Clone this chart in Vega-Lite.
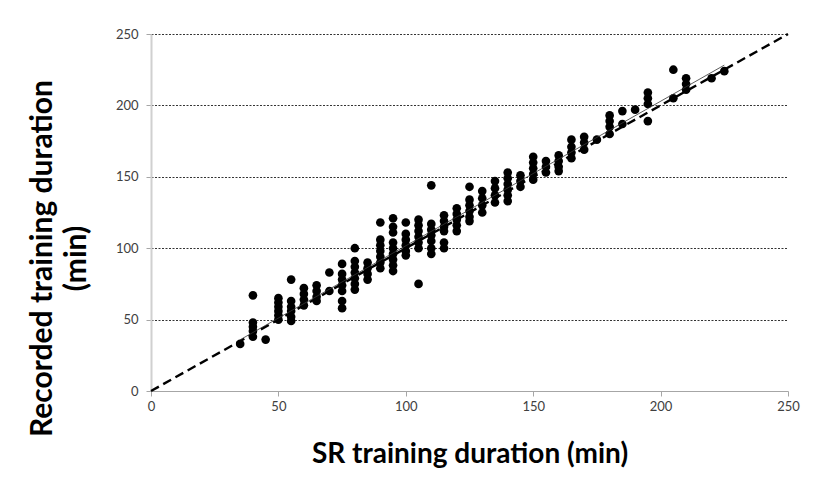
{
  "$schema": "https://vega.github.io/schema/vega-lite/v6.json",
  "autosize": "none",
  "width": 637,
  "height": 357,
  "padding": {"left": 151, "top": 34, "right": 32, "bottom": 110},
  "background": "white",
  "config": {
    "view": {"stroke": null},
    "font": "Lato"
  },
  "datasets": {
    "pts": [
      {"sr": 35, "rec": 33},
      {"sr": 40, "rec": 67}, {"sr": 40, "rec": 48}, {"sr": 40, "rec": 45}, {"sr": 40, "rec": 42}, {"sr": 40, "rec": 38},
      {"sr": 45, "rec": 36},
      {"sr": 50, "rec": 65}, {"sr": 50, "rec": 62}, {"sr": 50, "rec": 59}, {"sr": 50, "rec": 56}, {"sr": 50, "rec": 53}, {"sr": 50, "rec": 50},
      {"sr": 55, "rec": 78}, {"sr": 55, "rec": 63}, {"sr": 55, "rec": 59}, {"sr": 55, "rec": 56}, {"sr": 55, "rec": 52}, {"sr": 55, "rec": 49},
      {"sr": 60, "rec": 72}, {"sr": 60, "rec": 68}, {"sr": 60, "rec": 64}, {"sr": 60, "rec": 60},
      {"sr": 65, "rec": 74}, {"sr": 65, "rec": 70}, {"sr": 65, "rec": 66}, {"sr": 65, "rec": 63},
      {"sr": 70, "rec": 83}, {"sr": 70, "rec": 70},
      {"sr": 75, "rec": 89}, {"sr": 75, "rec": 82}, {"sr": 75, "rec": 78}, {"sr": 75, "rec": 74}, {"sr": 75, "rec": 70}, {"sr": 75, "rec": 63}, {"sr": 75, "rec": 58},
      {"sr": 80, "rec": 100}, {"sr": 80, "rec": 91}, {"sr": 80, "rec": 87}, {"sr": 80, "rec": 83}, {"sr": 80, "rec": 79}, {"sr": 80, "rec": 75}, {"sr": 80, "rec": 71},
      {"sr": 85, "rec": 90}, {"sr": 85, "rec": 86}, {"sr": 85, "rec": 82}, {"sr": 85, "rec": 78},
      {"sr": 90, "rec": 118}, {"sr": 90, "rec": 106}, {"sr": 90, "rec": 102}, {"sr": 90, "rec": 98}, {"sr": 90, "rec": 94}, {"sr": 90, "rec": 90}, {"sr": 90, "rec": 86},
      {"sr": 95, "rec": 121}, {"sr": 95, "rec": 115}, {"sr": 95, "rec": 111}, {"sr": 95, "rec": 104}, {"sr": 95, "rec": 100}, {"sr": 95, "rec": 96}, {"sr": 95, "rec": 92}, {"sr": 95, "rec": 88}, {"sr": 95, "rec": 84},
      {"sr": 100, "rec": 118}, {"sr": 100, "rec": 110}, {"sr": 100, "rec": 106}, {"sr": 100, "rec": 102}, {"sr": 100, "rec": 98}, {"sr": 100, "rec": 95},
      {"sr": 105, "rec": 120}, {"sr": 105, "rec": 116}, {"sr": 105, "rec": 112}, {"sr": 105, "rec": 108}, {"sr": 105, "rec": 104}, {"sr": 105, "rec": 100}, {"sr": 105, "rec": 75},
      {"sr": 110, "rec": 144}, {"sr": 110, "rec": 117}, {"sr": 110, "rec": 113}, {"sr": 110, "rec": 109}, {"sr": 110, "rec": 105}, {"sr": 110, "rec": 100}, {"sr": 110, "rec": 96},
      {"sr": 115, "rec": 123}, {"sr": 115, "rec": 119}, {"sr": 115, "rec": 115}, {"sr": 115, "rec": 112}, {"sr": 115, "rec": 104}, {"sr": 115, "rec": 100},
      {"sr": 120, "rec": 128}, {"sr": 120, "rec": 124}, {"sr": 120, "rec": 120}, {"sr": 120, "rec": 116}, {"sr": 120, "rec": 112},
      {"sr": 125, "rec": 143}, {"sr": 125, "rec": 134}, {"sr": 125, "rec": 130}, {"sr": 125, "rec": 126}, {"sr": 125, "rec": 122}, {"sr": 125, "rec": 119},
      {"sr": 130, "rec": 140}, {"sr": 130, "rec": 135}, {"sr": 130, "rec": 130}, {"sr": 130, "rec": 125},
      {"sr": 135, "rec": 147}, {"sr": 135, "rec": 142}, {"sr": 135, "rec": 137}, {"sr": 135, "rec": 132},
      {"sr": 140, "rec": 153}, {"sr": 140, "rec": 149}, {"sr": 140, "rec": 145}, {"sr": 140, "rec": 141}, {"sr": 140, "rec": 137}, {"sr": 140, "rec": 133},
      {"sr": 145, "rec": 151}, {"sr": 145, "rec": 147}, {"sr": 145, "rec": 143},
      {"sr": 150, "rec": 164}, {"sr": 150, "rec": 160}, {"sr": 150, "rec": 156}, {"sr": 150, "rec": 152}, {"sr": 150, "rec": 148},
      {"sr": 155, "rec": 161}, {"sr": 155, "rec": 157}, {"sr": 155, "rec": 153},
      {"sr": 160, "rec": 165}, {"sr": 160, "rec": 161}, {"sr": 160, "rec": 157}, {"sr": 160, "rec": 154},
      {"sr": 165, "rec": 176}, {"sr": 165, "rec": 171}, {"sr": 165, "rec": 167}, {"sr": 165, "rec": 163},
      {"sr": 170, "rec": 178}, {"sr": 170, "rec": 174}, {"sr": 170, "rec": 169},
      {"sr": 175, "rec": 176},
      {"sr": 180, "rec": 193}, {"sr": 180, "rec": 189}, {"sr": 180, "rec": 185}, {"sr": 180, "rec": 180},
      {"sr": 185, "rec": 196}, {"sr": 185, "rec": 187},
      {"sr": 190, "rec": 197},
      {"sr": 195, "rec": 209}, {"sr": 195, "rec": 205}, {"sr": 195, "rec": 201}, {"sr": 195, "rec": 189},
      {"sr": 205, "rec": 225}, {"sr": 205, "rec": 205},
      {"sr": 210, "rec": 219}, {"sr": 210, "rec": 215}, {"sr": 210, "rec": 211},
      {"sr": 220, "rec": 219},
      {"sr": 225, "rec": 224}
    ],
    "identity": [{"sr": 0, "rec": 0}, {"sr": 250, "rec": 250}],
    "fit": [{"sr": 35, "rec": 35.9}, {"sr": 225, "rec": 228.2}]
  },
  "layer": [
    {
      "data": {"name": "pts"},
      "mark": {"type": "point", "filled": true, "color": "black", "opacity": 1, "size": 75},
      "encoding": {
        "x": {
          "field": "sr", "type": "quantitative",
          "scale": {"domain": [0, 250], "nice": false},
          "axis": {
            "title": "SR training duration (min)",
            "values": [0, 50, 100, 150, 200, 250],
            "grid": false,
            "domainColor": "#a6a6a6", "domainWidth": 1.2,
            "tickColor": "#a6a6a6", "tickSize": 5, "tickWidth": 1,
            "labelFont": "Lato", "labelFontSize": 13, "labelColor": "#404040", "labelPadding": 4,
            "labelFlush": false,
            "titleFont": "Lato", "titleFontSize": 28, "titleFontWeight": "bold", "titleColor": "#000000",
            "titlePadding": 27
          }
        },
        "y": {
          "field": "rec", "type": "quantitative",
          "scale": {"domain": [0, 250], "nice": false},
          "axis": {
            "title": ["Recorded training duration", "(min)"],
            "values": [0, 50, 100, 150, 200, 250],
            "grid": true,
            "gridColor": "#333333", "gridDash": [2, 1.5], "gridWidth": 1,
            "domainColor": "#d0d0d0", "domainWidth": 2,
            "tickColor": "#a6a6a6", "tickSize": 5, "tickWidth": 1,
            "labelFont": "Lato", "labelFontSize": 13, "labelColor": "#404040", "labelPadding": 8,
            "labelFlush": false,
            "titleFont": "Lato", "titleFontSize": 30, "titleFontWeight": "bold", "titleColor": "#000000",
            "titleX": -94, "titleY": 224, "titleLineHeight": 34
          }
        }
      }
    },
    {
      "data": {"name": "identity"},
      "mark": {"type": "line", "color": "black", "strokeWidth": 2.4, "strokeDash": [9, 5]},
      "encoding": {
        "x": {"field": "sr", "type": "quantitative"},
        "y": {"field": "rec", "type": "quantitative"}
      }
    },
    {
      "data": {"name": "fit"},
      "mark": {"type": "line", "color": "#333333", "strokeWidth": 0.8},
      "encoding": {
        "x": {"field": "sr", "type": "quantitative"},
        "y": {"field": "rec", "type": "quantitative"}
      }
    }
  ]
}
